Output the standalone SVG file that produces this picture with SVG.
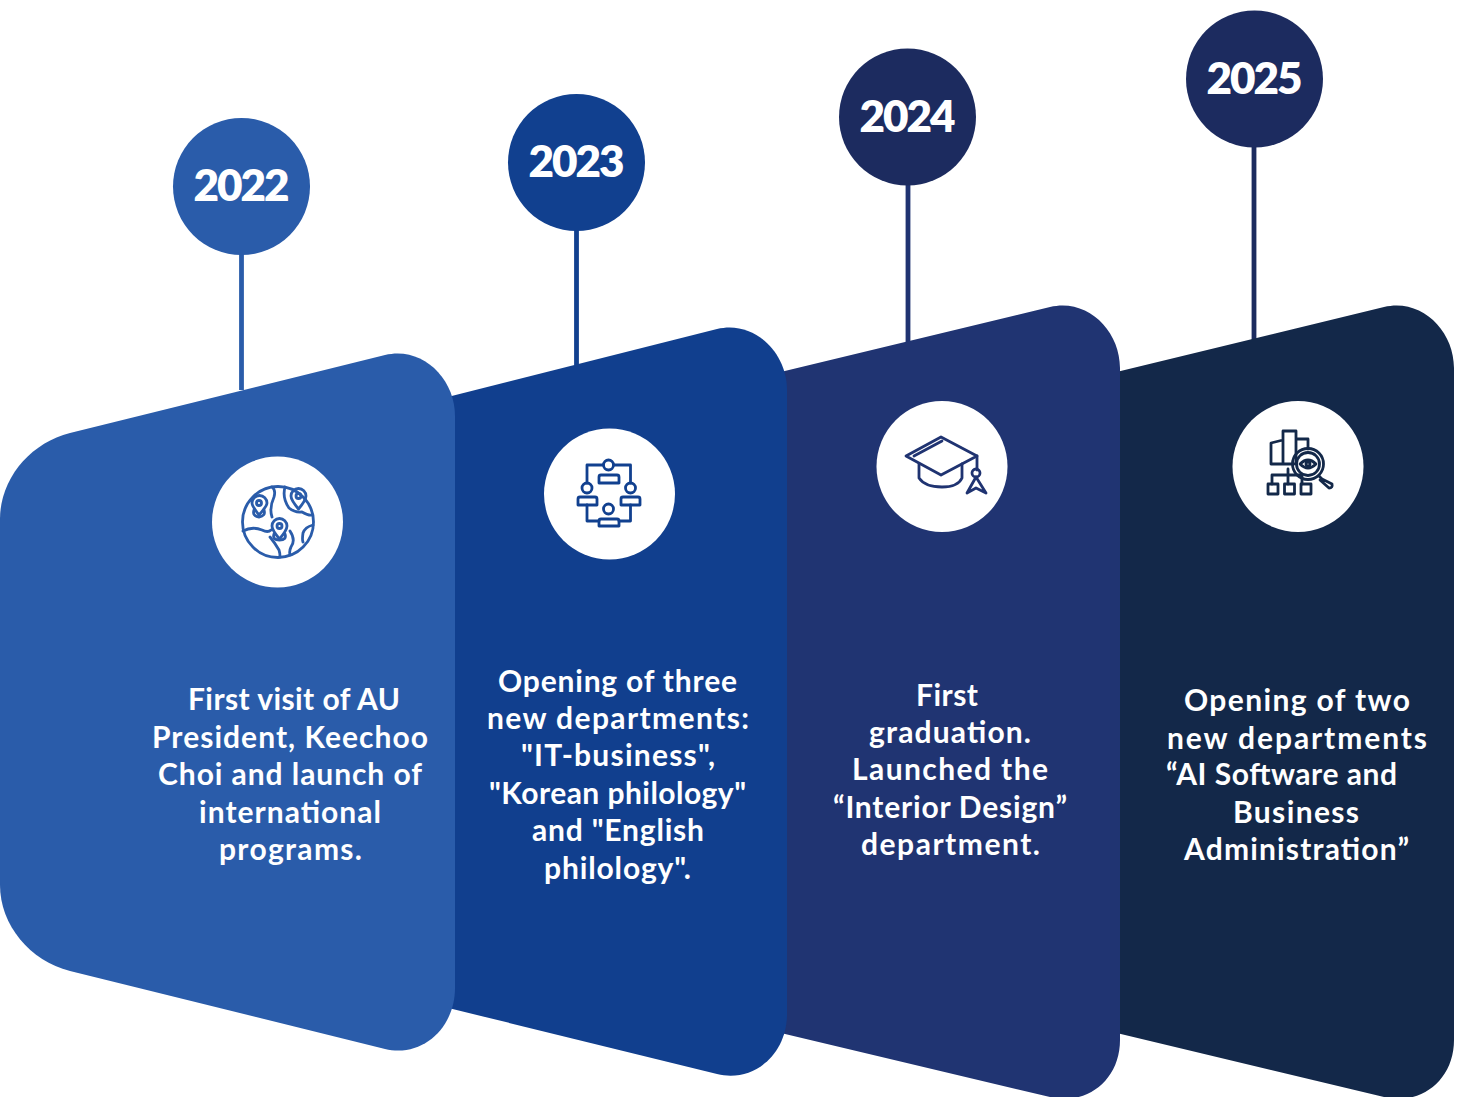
<svg xmlns="http://www.w3.org/2000/svg" width="1461" height="1097" viewBox="0 0 1461 1097">
<style>
.t{font-family:"Lato","Liberation Sans",sans-serif;font-weight:700;font-size:30px;fill:#fff}
.y{font-family:"Lato","Liberation Sans",sans-serif;font-weight:800;font-size:44px;fill:#fff;text-anchor:middle;letter-spacing:-2px}
.w{fill:#fff}
.i{fill:none;stroke-width:2.8;stroke-linejoin:round;stroke-linecap:round}
.c{fill:none;stroke-width:4.8}
</style>
<rect width="1461" height="1097" fill="#fff"/>
<g id="connectors">
<path class="c" stroke="#2a5caa" d="M241.500 250V390"/>
<path class="c" stroke="#11408f" d="M576.500 228V365"/>
<path class="c" stroke="#1f3371" d="M908 182V345"/>
<path class="c" stroke="#1c2b5f" d="M1254 145V340"/>
</g>
<g id="card-2025">
<path fill="#132849" d="M1100 376L1384 307C1421 298 1454 330 1454 368V1040C1454 1080 1421 1106 1384 1097L1100 1029Z"/>
<circle class="w" cx="1298" cy="466.500" r="65.500"/>
<g class="i" stroke="#132849">
<path d="M1294 464H1271V443L1283 440M1283 464V431H1296V464M1296 439H1308V449"/>
<circle cx="1308" cy="464" r="15.500"/><circle cx="1308" cy="464" r="11.500"/><path d="M1300 464Q1308 456 1316 464Q1308 472 1300 464Z"/><circle cx="1308" cy="464" r="2"/>
<path d="M1319 476L1322 479L1332 484Q1333 488 1329 488L1320 480"/>
<path d="M1272 484V475H1302V484M1288 475V484M1288 475V469"/>
<rect x="1268" y="484" width="10" height="10"/><rect x="1284.500" y="484" width="10" height="10"/><rect x="1301" y="484" width="10" height="10"/>
</g>
<text class="t" x="1184" y="711" textLength="226">Opening of two</text>
<text class="t" x="1167" y="749" textLength="260">new departments</text>
<text class="t" x="1166" y="785" textLength="231">“AI Software and</text>
<text class="t" x="1233" y="822.500" textLength="126">Business</text>
<text class="t" x="1184" y="860" textLength="225">Administration”</text>
</g>
<g id="card-2024">
<path fill="#203472" d="M760 377L1050 307C1087 298 1120 330 1120 368V1040C1120 1080 1087 1106 1050 1097L760 1028Z"/>
<circle class="w" cx="942" cy="466.500" r="65.500"/>
<g class="i" stroke="#1f3371">
<path d="M906 456L941 437L977 456L941 475Z"/><path d="M914 456L942 441"/>
<path d="M919 464V478Q925 487 942 487Q958 487 962 478V464"/>
<path d="M977 456V470"/><circle cx="976" cy="473" r="4"/>
<path d="M976 477L967 493L976 488L986 493Z"/>
</g>
<text class="t" x="916" y="705.500" textLength="62">First</text>
<text class="t" x="869" y="743" textLength="162">graduation.</text>
<text class="t" x="852" y="780" textLength="196">Launched the</text>
<text class="t" x="833" y="818" textLength="234">“Interior Design”</text>
<text class="t" x="861" y="855" textLength="179">department.</text>
</g>
<g id="card-2023">
<path fill="#113f8e" d="M420 404L717 329C754 320 787 352 787 390V1014C787 1054 754 1083 717 1074L420 1001Z"/>
<circle class="w" cx="609.500" cy="494" r="65.500"/>
<g class="i" stroke="#11408f">
<circle cx="608.500" cy="465" r="5"/><path d="M599 483V477Q599 475 601 475H617Q619 475 619 477V483Z"/>
<circle cx="587" cy="488" r="5"/><path d="M578 505V499Q578 497 580 497H595Q597 497 597 499V505Z"/>
<circle cx="630.500" cy="488" r="5"/><path d="M621 505V499Q621 497 623 497H638Q640 497 640 499V505Z"/>
<circle cx="608.500" cy="509" r="5"/><path d="M599 526V521Q599 519 601 519H617Q619 519 619 521V526Z"/>
<path d="M587 483V465H603M614 465H630.500V483M587 505V521H599M630.500 505V521H619"/>
</g>
<text class="t" x="498" y="691.500" textLength="239">Opening of three</text>
<text class="t" x="487" y="729" textLength="262">new departments:</text>
<text class="t" x="521" y="766" textLength="194">"IT-business",</text>
<text class="t" x="489" y="803.500" textLength="257">"Korean philology"</text>
<text class="t" x="532" y="841" textLength="172">and "English</text>
<text class="t" x="544" y="878.500" textLength="147">philology".</text>
</g>
<g id="card-2022">
<path fill="#2a5caa" d="M70 433L385 355C422 346 455 378 455 416V988C455 1028 422 1058 385 1049L70 971C30 961 0 925 0 885V519C0 479 30 443 70 433Z"/>
<circle class="w" cx="277.500" cy="522" r="65.500"/>
<g class="i" stroke="#2a5caa">
<circle cx="278" cy="522" r="35.500"/>
<path d="M272 487Q276 490 274 497Q269 508 272 517M285 487Q282 498 289 508Q295 513 302 512Q309 516 312 515M243 531Q252 526 262 530Q268 533 271 530M270 537Q275 543 279 550Q280 553 280 557M290 531Q296 540 291 547Q289 551 290 555M313 525Q305 527 303 533Q302 540 303 542"/>
<path d="M259 515Q252 506 252 503A7.500 7.500 0 0 1 267 503Q267 506 259 515Z"/><circle cx="259" cy="503" r="2.500"/><path d="M254 510Q252 516 259 517Q266 516 264 510"/>
<path d="M298.500 509Q291 500 291 496A7.500 7.500 0 0 1 306 496Q306 500 298.500 509Z"/><circle cx="298.500" cy="496" r="2.500"/>
<path d="M279.500 539Q272 530 272 526A7.500 7.500 0 0 1 287 526Q287 530 279.500 539Z"/><circle cx="279.500" cy="526" r="2.500"/><path d="M274 534Q272 540 279.500 540Q287 540 285 534"/>
</g>
<text class="t" x="188" y="710" textLength="212">First visit of AU</text>
<text class="t" x="152" y="747.500" textLength="276">President, Keechoo</text>
<text class="t" x="158" y="785" textLength="264">Choi and launch of</text>
<text class="t" x="199" y="822.500" textLength="182">international</text>
<text class="t" x="219" y="860" textLength="143">programs.</text>
</g>
<g id="year-2022"><circle cx="241.500" cy="186.500" r="68.500" fill="#2a5caa"/><text class="y" x="240.500" y="201">2022</text></g>
<g id="year-2023"><circle cx="576.500" cy="162.500" r="68.500" fill="#11408f"/><text class="y" x="575.500" y="177">2023</text></g>
<g id="year-2024"><circle cx="907.500" cy="117" r="68.500" fill="#1c2b5f"/><text class="y" x="906.500" y="132">2024</text></g>
<g id="year-2025"><circle cx="1254.500" cy="79" r="68.500" fill="#1c2b5f"/><text class="y" x="1253.500" y="94">2025</text></g>
</svg>
